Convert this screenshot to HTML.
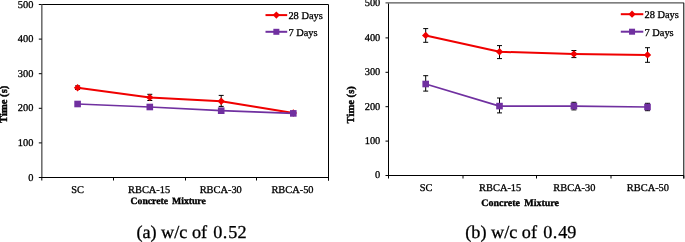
<!DOCTYPE html>
<html><head><meta charset="utf-8"><style>
html,body{margin:0;padding:0;background:#fff;}
body{width:685px;height:242px;overflow:hidden;}
svg{display:block;will-change:transform;}
text{font-family:"Liberation Serif",serif;fill:#000;text-rendering:geometricPrecision;}
.t{stroke:#000;stroke-width:0.3px;}
.tb{stroke:#000;stroke-width:0.35px;}
.yb{stroke:#000;stroke-width:0.4px;}
.cap{stroke:#000;stroke-width:0.3px;}
.t{font-size:10.4px;}
.tb{font-size:10px;font-weight:bold;}
.yb{font-size:10.6px;font-weight:bold;}
.cap{font-size:18.2px;}
</style></head><body>
<svg width="685" height="242" viewBox="0 0 685 242">
<rect width="685" height="242" fill="#fff"/>
<line x1="38.8" y1="4.5" x2="328.5" y2="4.5" stroke="#000" stroke-width="1"/>
<line x1="328.5" y1="4.5" x2="328.5" y2="180.5" stroke="#000" stroke-width="1"/>
<line x1="41.8" y1="4.5" x2="41.8" y2="177.5" stroke="#707070" stroke-width="1.6"/>
<line x1="38.8" y1="177.5" x2="328.5" y2="177.5" stroke="#000" stroke-width="1"/>
<text x="33.4" y="180.60" text-anchor="end" class="t">0</text>
<line x1="38.8" y1="142.90" x2="41.8" y2="142.90" stroke="#000" stroke-width="1"/>
<text x="33.4" y="146.00" text-anchor="end" class="t">100</text>
<line x1="38.8" y1="108.30" x2="41.8" y2="108.30" stroke="#000" stroke-width="1"/>
<text x="33.4" y="111.40" text-anchor="end" class="t">200</text>
<line x1="38.8" y1="73.70" x2="41.8" y2="73.70" stroke="#000" stroke-width="1"/>
<text x="33.4" y="76.80" text-anchor="end" class="t">300</text>
<line x1="38.8" y1="39.10" x2="41.8" y2="39.10" stroke="#000" stroke-width="1"/>
<text x="33.4" y="42.20" text-anchor="end" class="t">400</text>
<text x="33.4" y="7.60" text-anchor="end" class="t">500</text>
<line x1="41.80" y1="177.5" x2="41.80" y2="180.5" stroke="#000" stroke-width="1"/>
<line x1="113.50" y1="177.5" x2="113.50" y2="180.5" stroke="#000" stroke-width="1"/>
<line x1="185.50" y1="177.5" x2="185.50" y2="180.5" stroke="#000" stroke-width="1"/>
<line x1="256.50" y1="177.5" x2="256.50" y2="180.5" stroke="#000" stroke-width="1"/>
<line x1="328.50" y1="177.5" x2="328.50" y2="180.5" stroke="#000" stroke-width="1"/>
<text x="77.55" y="192.9" text-anchor="middle" class="t">SC</text>
<text x="149.10" y="192.9" text-anchor="middle" class="t">RBCA-15</text>
<text x="220.75" y="192.9" text-anchor="middle" class="t">RBCA-30</text>
<text x="292.50" y="192.9" text-anchor="middle" class="t">RBCA-50</text>
<text x="130.6" y="204.4" class="tb" style="font-size:9.7px">Concrete<tspan dx="4.0">Mixture</tspan></text>
<text transform="translate(7.3,104.3) rotate(-90)" text-anchor="middle" class="yb">Time (s)</text>
<polyline points="77.60,87.70 149.80,97.40 221.20,101.20 293.30,113.00" fill="none" stroke="#f00000" stroke-width="2" stroke-linejoin="round"/>
<polyline points="77.60,104.00 149.80,107.00 221.20,110.70 293.30,113.40" fill="none" stroke="#7030a0" stroke-width="1.75" stroke-linejoin="round"/>
<path d="M75.10,85.90H80.10M77.60,85.90V89.50M75.10,89.50H80.10" stroke="#000" stroke-width="1" fill="none"/>
<path d="M147.30,94.30H152.30M149.80,94.30V100.50M147.30,100.50H152.30" stroke="#000" stroke-width="1" fill="none"/>
<path d="M218.70,95.40H223.70M221.20,95.40V106.40M218.70,106.40H223.70" stroke="#000" stroke-width="1" fill="none"/>
<path d="M77.60,84.00L81.30,87.70L77.60,91.40L73.90,87.70Z" fill="#f00000"/>
<path d="M149.80,93.70L153.50,97.40L149.80,101.10L146.10,97.40Z" fill="#f00000"/>
<path d="M221.20,97.50L224.90,101.20L221.20,104.90L217.50,101.20Z" fill="#f00000"/>
<path d="M293.30,109.30L297.00,113.00L293.30,116.70L289.60,113.00Z" fill="#f00000"/>
<rect x="74.30" y="100.70" width="6.60" height="6.60" fill="#7030a0"/>
<rect x="146.50" y="103.70" width="6.60" height="6.60" fill="#7030a0"/>
<rect x="217.90" y="107.40" width="6.60" height="6.60" fill="#7030a0"/>
<rect x="290.00" y="110.10" width="6.60" height="6.60" fill="#7030a0"/>
<line x1="265.5" y1="15.1" x2="287.2" y2="15.1" stroke="#f00000" stroke-width="2"/>
<path d="M276.35,11.50L279.95,15.10L276.35,18.70L272.75,15.10Z" fill="#f00000"/>
<line x1="265.5" y1="31.8" x2="287.2" y2="31.8" stroke="#7030a0" stroke-width="2"/>
<rect x="273.35" y="28.80" width="6.00" height="6.00" fill="#7030a0"/>
<text x="288.4" y="19.0" class="t">28 Days</text>
<text x="288.4" y="35.7" class="t">7 Days</text>
<text x="136.4" y="237.7" class="cap">(a) w/c of <tspan dx="1.7">0</tspan><tspan dx="0.3">.</tspan><tspan dx="1">52</tspan></text>
<line x1="385.5" y1="2.8" x2="683.8" y2="2.8" stroke="#555" stroke-width="1.3"/>
<line x1="683.8" y1="2.8" x2="683.8" y2="178.5" stroke="#000" stroke-width="1"/>
<line x1="388.5" y1="3.5" x2="388.5" y2="175.5" stroke="#000" stroke-width="1"/>
<line x1="385.5" y1="175.5" x2="683.8" y2="175.5" stroke="#000" stroke-width="1"/>
<text x="380.3" y="178.40" text-anchor="end" class="t">0</text>
<line x1="385.5" y1="141.10" x2="388.5" y2="141.10" stroke="#000" stroke-width="1"/>
<text x="380.3" y="144.00" text-anchor="end" class="t">100</text>
<line x1="385.5" y1="106.70" x2="388.5" y2="106.70" stroke="#000" stroke-width="1"/>
<text x="380.3" y="109.60" text-anchor="end" class="t">200</text>
<line x1="385.5" y1="72.30" x2="388.5" y2="72.30" stroke="#000" stroke-width="1"/>
<text x="380.3" y="75.20" text-anchor="end" class="t">300</text>
<line x1="385.5" y1="37.90" x2="388.5" y2="37.90" stroke="#000" stroke-width="1"/>
<text x="380.3" y="40.80" text-anchor="end" class="t">400</text>
<text x="380.3" y="6.40" text-anchor="end" class="t">500</text>
<line x1="388.50" y1="175.5" x2="388.50" y2="178.5" stroke="#000" stroke-width="1"/>
<line x1="463.00" y1="175.5" x2="463.00" y2="178.5" stroke="#000" stroke-width="1"/>
<line x1="536.50" y1="175.5" x2="536.50" y2="178.5" stroke="#000" stroke-width="1"/>
<line x1="611.00" y1="175.5" x2="611.00" y2="178.5" stroke="#000" stroke-width="1"/>
<line x1="683.80" y1="175.5" x2="683.80" y2="178.5" stroke="#000" stroke-width="1"/>
<text x="426.15" y="191.1" text-anchor="middle" class="t">SC</text>
<text x="500.20" y="191.1" text-anchor="middle" class="t">RBCA-15</text>
<text x="574.35" y="191.1" text-anchor="middle" class="t">RBCA-30</text>
<text x="647.95" y="191.1" text-anchor="middle" class="t">RBCA-50</text>
<text x="481.3" y="205.8" class="tb" style="font-size:10px">Concrete<tspan dx="4.2">Mixture</tspan></text>
<text transform="translate(354.3,104.8) rotate(-90)" text-anchor="middle" class="yb">Time (s)</text>
<polyline points="425.70,35.40 499.50,51.80 573.90,54.00 647.50,54.90" fill="none" stroke="#f00000" stroke-width="2" stroke-linejoin="round"/>
<polyline points="425.70,84.00 499.50,106.10 573.90,106.10 647.50,107.00" fill="none" stroke="#7030a0" stroke-width="1.75" stroke-linejoin="round"/>
<path d="M423.20,28.60H428.20M425.70,28.60V42.30M423.20,42.30H428.20" stroke="#000" stroke-width="1" fill="none"/>
<path d="M497.00,45.60H502.00M499.50,45.60V58.60M497.00,58.60H502.00" stroke="#000" stroke-width="1" fill="none"/>
<path d="M571.40,50.50H576.40M573.90,50.50V57.60M571.40,57.60H576.40" stroke="#000" stroke-width="1" fill="none"/>
<path d="M645.00,47.70H650.00M647.50,47.70V62.30M645.00,62.30H650.00" stroke="#000" stroke-width="1" fill="none"/>
<path d="M425.70,31.70L429.40,35.40L425.70,39.10L422.00,35.40Z" fill="#f00000"/>
<path d="M499.50,48.10L503.20,51.80L499.50,55.50L495.80,51.80Z" fill="#f00000"/>
<path d="M573.90,50.30L577.60,54.00L573.90,57.70L570.20,54.00Z" fill="#f00000"/>
<path d="M647.50,51.20L651.20,54.90L647.50,58.60L643.80,54.90Z" fill="#f00000"/>
<path d="M423.20,75.70H428.20M425.70,75.70V91.10M423.20,91.10H428.20" stroke="#000" stroke-width="1" fill="none"/>
<path d="M497.00,98.00H502.00M499.50,98.00V112.90M497.00,112.90H502.00" stroke="#000" stroke-width="1" fill="none"/>
<path d="M571.40,102.30H576.40M573.90,102.30V109.90M571.40,109.90H576.40" stroke="#000" stroke-width="1" fill="none"/>
<path d="M645.00,103.30H650.00M647.50,103.30V110.70M645.00,110.70H650.00" stroke="#000" stroke-width="1" fill="none"/>
<rect x="422.40" y="80.70" width="6.60" height="6.60" fill="#7030a0"/>
<rect x="496.20" y="102.80" width="6.60" height="6.60" fill="#7030a0"/>
<rect x="570.60" y="102.80" width="6.60" height="6.60" fill="#7030a0"/>
<rect x="644.20" y="103.70" width="6.60" height="6.60" fill="#7030a0"/>
<line x1="620.8" y1="14.2" x2="643.3" y2="14.2" stroke="#f00000" stroke-width="2"/>
<path d="M632.05,10.60L635.65,14.20L632.05,17.80L628.45,14.20Z" fill="#f00000"/>
<line x1="620.8" y1="31.7" x2="643.3" y2="31.7" stroke="#7030a0" stroke-width="2"/>
<rect x="629.05" y="28.70" width="6.00" height="6.00" fill="#7030a0"/>
<text x="644.5" y="18.099999999999998" class="t">28 Days</text>
<text x="644.5" y="35.6" class="t">7 Days</text>
<text x="465.3" y="237.7" class="cap">(b) w/c of <tspan dx="1.7">0</tspan><tspan dx="0.3">.</tspan><tspan dx="1">49</tspan></text>
</svg>
</body></html>
